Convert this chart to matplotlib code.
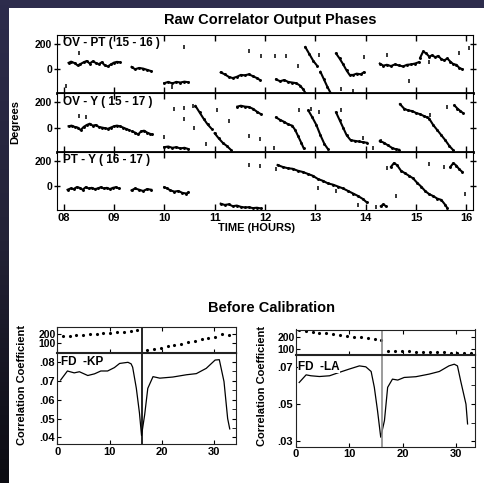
import numpy as np
import matplotlib.pyplot as plt
from matplotlib.ticker import FixedLocator
from matplotlib.colors import LinearSegmentedColormap

plt.rcParams['font.family'] = ['Liberation Sans', 'DejaVu Sans']
plt.rcParams['font.weight'] = 'bold'

# ---------------- data: raw correlator phases (deg) vs time (hours) ----------------
ovpt_seg_t = [
    [8.10, 8.15, 8.22, 8.28, 8.33, 8.40, 8.46, 8.52, 8.58, 8.64, 8.70, 8.76, 8.82, 8.88, 8.94, 9.00, 9.06, 9.12],
    [9.35, 9.42, 9.50, 9.58, 9.66, 9.74],
    [10.00, 10.08, 10.16, 10.24, 10.32, 10.40, 10.48],
    [11.12, 11.20, 11.28, 11.36, 11.44, 11.52, 11.60, 11.68, 11.76, 11.84, 11.90],
    [12.22, 12.30, 12.38, 12.46, 12.54, 12.62, 12.70, 12.76, 12.80],
    [12.80, 12.88, 12.96, 13.04],
    [13.10, 13.17, 13.24, 13.30],
    [13.41, 13.48, 13.55, 13.62, 13.68, 13.75, 13.82, 13.90, 13.96],
    [14.28, 14.35, 14.42, 14.50, 14.58, 14.66, 14.74, 14.82, 14.90, 14.98, 15.05],
    [15.08, 15.14, 15.20, 15.26, 15.32, 15.38, 15.44, 15.50, 15.56, 15.62, 15.68, 15.74, 15.80, 15.86, 15.92],
]
ovpt_seg_v = [
    [50, 60, 48, 30, 40, 55, 65, 45, 62, 50, 40, 55, 30, 22, 38, 52, 58, 55],
    [18, 0, 10, 5, -5, -15],
    [-110, -100, -112, -100, -105, -98, -103],
    [-25, -40, -60, -70, -60, -45, -48, -40, -55, -70, -85],
    [-80, -95, -85, -100, -105, -110, -130, -160, -185],
    [175, 120, 65, 25],
    [-20, -80, -140, -185],
    [125, 85, 40, -10, -45, -45, -35, -40, -25],
    [45, 28, 35, 25, 38, 30, 22, 35, 38, 45, 55],
    [90, 140, 125, 100, 110, 95, 105, 80, 70, 85, 60, 40, 35, 10, 0],
]
ovpt_dot_t = [8.05, 8.30, 10.15, 10.40, 11.69, 11.92, 12.20, 12.42, 12.66, 13.08, 13.50, 13.74, 13.96, 14.42, 14.85, 15.26, 15.85, 16.05]
ovpt_dot_v = [-130, 130, -140, 178, 140, 105, 105, 105, 25, 115, -160, -172, 100, 112, -90, 60, 128, 170]

ovy_seg_t = [
    [8.10, 8.16, 8.22, 8.28, 8.34, 8.40, 8.46, 8.52, 8.58, 8.64, 8.70, 8.76, 8.82, 8.88, 8.94, 9.00, 9.06, 9.12, 9.18, 9.24, 9.30],
    [9.36, 9.42, 9.48, 9.54, 9.60, 9.66, 9.72, 9.76],
    [10.00, 10.08, 10.16, 10.24, 10.32, 10.40, 10.48],
    [10.62, 10.70, 10.78, 10.86, 10.94],
    [11.00, 11.08, 11.16, 11.24, 11.32],
    [11.45, 11.52, 11.60, 11.68, 11.76, 11.84, 11.92],
    [12.22, 12.30, 12.38, 12.46, 12.54, 12.60, 12.66, 12.72, 12.77],
    [12.86, 12.94, 13.02, 13.10, 13.18, 13.25],
    [13.41, 13.48, 13.55, 13.62, 13.70, 13.78, 13.86, 13.94, 14.02],
    [14.28, 14.36, 14.44, 14.52, 14.60, 14.66],
    [14.68, 14.76, 14.84, 14.92, 15.00, 15.08, 15.16, 15.22],
    [15.26, 15.34, 15.42, 15.50, 15.58, 15.66, 15.74],
    [15.76, 15.82, 15.88, 15.93],
]
ovy_seg_v = [
    [10, 15, 5, 0, -20, 5, 20, 30, 15, 20, 5, 0, -5, -10, 0, 10, 15, 10, 0, -10, -20],
    [-30, -40, -55, -30, -25, -40, -50, -55],
    [-155, -150, -160, -155, -165, -160, -170],
    [170, 120, 70, 25, -10],
    [-45, -85, -120, -145, -175],
    [165, 172, 165, 162, 148, 125, 105],
    [80, 60, 45, 25, 15, -20, -70, -120, -165],
    [135, 80, 20, -60, -130, -170],
    [120, 60, 0, -60, -100, -105, -110, -115, -120],
    [-105, -120, -140, -160, -172, -175],
    [185, 150, 135, 130, 115, 105, 90, 80],
    [70, 20, -20, -60, -100, -145, -180],
    [175, 150, 130, 115],
]
ovy_dot_t = [8.30, 8.45, 10.00, 10.19, 10.40, 10.40, 10.58, 10.60, 10.82, 11.04, 11.28, 11.69, 11.91, 12.18, 12.68, 12.92, 13.08, 13.50, 13.95, 14.15, 14.30, 15.28, 15.62]
ovy_dot_v = [90, 85, -75, 147, 155, 67, 173, -5, -133, 139, 48, -67, -93, -160, 140, 150, 120, 140, -80, -160, -110, 100, 160]

pty_seg_t = [
    [8.08, 8.14, 8.20, 8.26, 8.32, 8.38, 8.44, 8.50, 8.56, 8.62, 8.68, 8.74, 8.80, 8.86, 8.92, 8.98, 9.04, 9.10],
    [9.35, 9.42, 9.50, 9.58, 9.66, 9.74],
    [10.00, 10.06, 10.12, 10.20, 10.28, 10.36, 10.44, 10.48],
    [11.12, 11.20, 11.28, 11.36, 11.44, 11.52, 11.60, 11.68, 11.76, 11.84, 11.92],
    [12.25, 12.35, 12.45, 12.55, 12.65, 12.75, 12.85, 12.95, 13.05, 13.15, 13.25, 13.35, 13.45, 13.55, 13.65, 13.75, 13.85, 13.95, 14.02],
    [14.30, 14.35, 14.40],
    [14.50, 14.56, 14.62, 14.70, 14.78, 14.86, 14.94, 15.02, 15.10, 15.18, 15.26, 15.34, 15.42, 15.50, 15.58, 15.62],
    [15.68, 15.74, 15.80, 15.86, 15.92],
]
pty_seg_v = [
    [-30, -20, -25, -10, -15, -30, -10, -20, -15, -25, -20, -10, -20, -15, -25, -15, -10, -20],
    [-35, -20, -30, -40, -25, -30],
    [-10, -20, -35, -45, -40, -55, -60, -50],
    [-140, -150, -145, -160, -155, -165, -170, -168, -175, -172, -178],
    [165, 150, 140, 135, 120, 110, 95, 80, 55, 40, 20, 10, -5, -20, -40, -60, -80, -105, -130],
    [-160, -145, -160],
    [150, 180, 165, 120, 100, 80, 60, 25, -5, -40, -65, -80, -100, -110, -150, -175],
    [150, 180, 160, 130, 110],
]
pty_dot_t = [11.69, 11.90, 12.22, 13.05, 13.40, 13.85, 14.20, 14.42, 14.60, 15.25, 15.55, 15.98]
pty_dot_v = [168, 155, 130, -20, -40, -150, -170, 140, -80, 175, 150, -60]

panel_names = ['OV - PT ( 15 - 16 )', 'OV - Y ( 15 - 17 )', 'PT - Y ( 16 - 17 )']
hour_ticks = [8, 9, 10, 11, 12, 13, 14, 15, 16]
hour_labels = ['08', '09', '10', '11', '12', '13', '14', '15', '16']

# ---------------- data: before calibration ----------------
kp_x = [0.6, 1.9, 3.2, 4.2, 5.8, 7.1, 8.3, 9.6, 10.9, 11.9, 13.5, 14.1, 14.4, 15.1, 15.7, 16.1,
        16.7, 17.3, 18.3, 19.6, 22.1, 24.7, 26.6, 28.5, 30.2, 31.0, 31.9, 32.6, 33.0]
kp_y = [0.0704, 0.0752, 0.0742, 0.0748, 0.0728, 0.0737, 0.0752, 0.0752, 0.0770, 0.0792, 0.0798, 0.0790, 0.0772, 0.0661, 0.0530, 0.0410,
        0.0520, 0.0660, 0.0722, 0.0714, 0.0720, 0.0732, 0.0738, 0.0766, 0.0810, 0.0812, 0.0696, 0.0500, 0.0445]
kp_ph_x1 = [1.0, 2.3, 3.6, 4.9, 6.2, 7.5, 8.8, 10.1, 11.4, 12.7, 14.0, 15.3]
kp_ph_y1 = [175, 180, 186, 192, 198, 204, 210, 216, 222, 228, 234, 240]
kp_ph_x2 = [17.2, 18.5, 19.8, 21.1, 22.4, 23.7, 25.0, 26.3, 27.6, 28.9, 30.2, 31.5, 32.8]
kp_ph_y2 = [15, 30, 45, 60, 75, 92, 108, 122, 138, 152, 168, 200, 190]
kp_major = [0.04, 0.05, 0.06, 0.07, 0.08]
kp_minor = [0.040, 0.045, 0.050, 0.055, 0.060, 0.065, 0.070, 0.075, 0.080]

la_x = [0.6, 1.9, 2.8, 4.4, 6.3, 8.1, 10.0, 11.9, 13.1, 14.1, 14.7, 15.3, 15.9, 16.6,
        17.2, 18.1, 19.1, 20.3, 22.5, 25.0, 26.9, 28.7, 29.7, 30.3, 30.9, 31.9, 32.2]
la_y = [0.0616, 0.0657, 0.0652, 0.0648, 0.0652, 0.0670, 0.0688, 0.0705, 0.0700, 0.0675, 0.0590, 0.0465, 0.0323, 0.0412,
        0.0590, 0.0634, 0.0629, 0.0643, 0.0647, 0.0661, 0.0675, 0.0705, 0.0714, 0.0705, 0.0625, 0.0500, 0.0394]
la_ph_x1 = [0.5, 1.8, 3.1, 4.4, 5.7, 7.0, 8.3, 9.6, 10.9, 12.2, 13.5, 14.8, 15.9]
la_ph_y1 = [265, 258, 250, 243, 236, 229, 222, 215, 208, 200, 193, 186, 178]
la_ph_x2 = [17.3, 18.6, 19.9, 21.2, 22.5, 23.8, 25.1, 26.4, 27.7, 29.0, 30.3, 31.6, 32.9]
la_ph_y2 = [85, 83, 80, 78, 76, 74, 72, 70, 68, 66, 64, 62, 60]
la_major = [0.03, 0.05, 0.07]
la_minor = [0.04, 0.06]

W, H = 485, 483
fig = plt.figure(figsize=(W / 100, H / 100), dpi=100)
fig.patch.set_facecolor('white')


def box(l, t, r, b):
    # pixel box -> figure fraction rect
    return [l / W, 1 - b / H, (r - l) / W, (b - t) / H]


# dark scan border (top and left)
top_band = fig.add_axes(box(0, 0, W, 8))
top_band.set_axis_off()
top_band.add_patch(plt.Rectangle((0, 0), 1, 1, color='#2d2c4c', transform=top_band.transAxes))
left_band = fig.add_axes(box(0, 0, 9, H))
cm = LinearSegmentedColormap.from_list('edge', ['#2d2c4c', '#232236', '#0c0c12'])
left_band.imshow(np.linspace(0, 1, 100).reshape(-1, 1), aspect='auto', cmap=cm)
left_band.set_axis_off()

# ---------------- top figure ----------------
fig.text(270 / W, 1 - 20 / H, 'Raw Correlator Output Phases', ha='center', va='center', fontsize=10.5, fontweight='bold')

seg_t_all = [ovpt_seg_t, ovy_seg_t, pty_seg_t]
seg_v_all = [ovpt_seg_v, ovy_seg_v, pty_seg_v]
dot_t_all = [ovpt_dot_t, ovy_dot_t, pty_dot_t]
dot_v_all = [ovpt_dot_v, ovy_dot_v, pty_dot_v]

tops = [35, 93.3, 151.7]
for i in range(3):
    ax = fig.add_axes(box(57, tops[i], 473, tops[i] + 58.3))
    for st, sv in zip(seg_t_all[i], seg_v_all[i]):
        ax.plot(st, sv, color='k', lw=1.5, marker='.', ms=2.2)
    ax.plot(dot_t_all[i], dot_v_all[i], linestyle='none', marker='|', ms=3, mew=1.1, color='k')
    ax.set_xlim(7.87, 16.13)
    ax.set_ylim(-190, 270)
    ax.xaxis.set_major_locator(FixedLocator(hour_ticks))
    ax.set_yticks([0, 200])
    ax.tick_params(axis='x', direction='in', top=True, length=4, width=1, labelsize=8, pad=2)
    ax.tick_params(axis='y', direction='inout', right=True, length=5, width=1, labelsize=7.5, pad=1)
    if i < 2:
        ax.set_xticklabels([])
        ax.spines['bottom'].set_linewidth(2)
    else:
        ax.set_xticklabels(hour_labels)
        ax.set_xlabel('TIME (HOURS)', fontsize=8, fontweight='bold', labelpad=0, x=0.48)
    ax.text(7.98, 205, panel_names[i], ha='left', va='center', fontsize=8.5, fontweight='bold')

fig.text(15 / W, 1 - 122 / H, 'Degrees', rotation=90, ha='center', va='center', fontsize=8, fontweight='bold')

# ---------------- before calibration ----------------
fig.text(272 / W, 1 - 308 / H, 'Before Calibration', ha='center', va='center', fontsize=10.5, fontweight='bold')


def cal_pair(l, r, t, mid, b, cx, cy, ph1, ph2, xlim, ylim_c, ylim_p, major, minor, label, lab_x, lab_y, line_col):
    up = fig.add_axes(box(l, t, r, mid))
    lo = fig.add_axes(box(l, mid, r, b))
    up.plot(ph1[0], ph1[1], linestyle='none', marker='.', ms=2.5, color='k')
    up.plot(ph2[0], ph2[1], linestyle='none', marker='.', ms=2.5, color='k')
    up.set_xlim(*xlim)
    up.set_ylim(*ylim_p)
    up.set_yticks([100, 200])
    up.set_xticks([0, 10, 20, 30])
    up.set_xticklabels([])
    up.tick_params(direction='in', right=True, top=True, length=3, labelsize=7.5, pad=1)
    up.axvline(16.2, color=line_col, lw=1.2)
    up.spines['bottom'].set_linewidth(1.5)

    lo.plot(cx, cy, color='k', lw=0.9)
    lo.set_xlim(*xlim)
    lo.set_ylim(*ylim_c)
    lo.yaxis.set_major_locator(FixedLocator(major))
    lo.yaxis.set_minor_locator(FixedLocator(minor))
    lo.yaxis.set_major_formatter(plt.FuncFormatter(lambda v, p: ('%.2f' % v)[1:]))
    lo.set_xticks([0, 10, 20, 30])
    lo.tick_params(which='both', direction='in', right=True, top=False, length=3, labelsize=8, pad=2)
    lo.tick_params(which='minor', left=False)
    lo.axvline(16.2, color=line_col, lw=1.2)
    lo.text(lab_x, lab_y, label, ha='left', va='center', fontsize=8.5, fontweight='bold',
            bbox=dict(facecolor='white', edgecolor='none', pad=0.2))
    for a in (up, lo):
        for s in a.spines.values():
            s.set_color('#222222')
    return up, lo


cal_pair(57.5, 236, 326.5, 352.5, 444, kp_x, kp_y, (kp_ph_x1, kp_ph_y1), (kp_ph_x2, kp_ph_y2),
         (0, 34.2), (0.0365, 0.085), (-10, 285), kp_major, kp_minor, 'FD  -KP', 0.7, 0.0800, 'k')
cal_pair(296, 474.5, 329.5, 354.5, 446.5, la_x, la_y, (la_ph_x1, la_ph_y1), (la_ph_x2, la_ph_y2),
         (0, 33.5), (0.0273, 0.0766), (50, 270), la_major, la_minor, 'FD  -LA', 0.45, 0.0700, '#8a8a8a')

fig.text(22 / W, 1 - 385 / H, 'Correlation Coefficient', rotation=90, ha='center', va='center', fontsize=8, fontweight='bold')
fig.text(262 / W, 1 - 386 / H, 'Correlation Coefficient', rotation=90, ha='center', va='center', fontsize=8, fontweight='bold')

fig.savefig('out.png', dpi=100, facecolor='white')
